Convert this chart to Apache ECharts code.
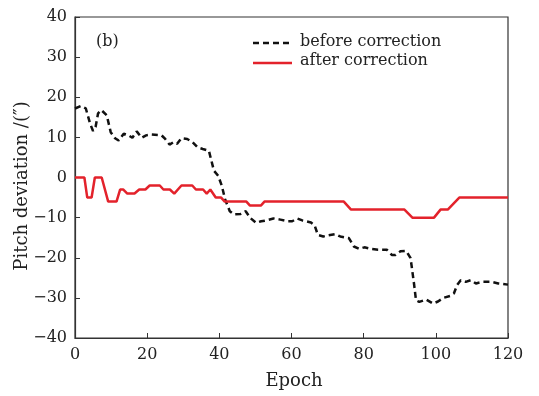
<!DOCTYPE html>
<html>
<head>
<meta charset="utf-8">
<script src="https://cdn.jsdelivr.net/npm/echarts@6/dist/echarts.min.js"></script>
<style>html,body{margin:0;padding:0;background:#fff}#c{width:539px;height:396px}</style>
</head>
<body>
<div id="c"></div>
<script>
var xTicks = [0, 20, 40, 60, 80, 100, 120];
var yTicks = [-40, -30, -20, -10, 0, 10, 20, 30, 40];

var beforeEpoch = [0,1.6,3,4.2,5,5.7,6.4,7.3,8.8,9.9,11.1,12.1,13.5,14.8,15.9,17.1,18.5,19.7,21.1,24,25,26.2,27.3,28.3,29.5,31.1,32.6,34,35.4,37.1,37.8,38.5,39.7,40.7,41.6,42.9,44,45.9,47.3,48.6,50.2,51.6,53,55,56.9,58.8,60.2,61.6,63,65.4,66.4,67.3,68.8,70.2,72.1,73.5,75.9,77.3,78.8,80.2,82.1,84,86.4,87.8,88.8,90.2,91.8,93,94,94.5,95.4,97.3,99.2,100.6,102.1,104,105,105.9,106.9,108.3,109.7,111.1,113,115.4,117.3,120];
var beforeValues = [17.2,17.8,17.2,13.4,11.6,12.6,16,16.8,15.5,11.3,9.8,9.2,10.9,10.5,9.9,11.5,9.9,10.5,10.7,10.5,9.6,8.2,8.8,8.4,9.8,9.6,8.8,7.5,7.1,6.7,4.2,1.7,0.4,-2.1,-5.5,-8.4,-9.2,-9.1,-8.4,-10.1,-11.3,-10.9,-10.7,-10.2,-10.5,-10.9,-10.9,-10.2,-10.7,-11.2,-11.9,-14.3,-14.7,-14.4,-14.1,-14.7,-15.1,-17.2,-17.8,-17.4,-17.8,-18,-18,-19.3,-19.3,-18.4,-18.3,-20.1,-26.8,-30.6,-31,-30.4,-31.4,-30.9,-30,-29.5,-28.9,-26.8,-25.6,-26,-25.6,-26.4,-26,-26,-26.4,-26.7];

var afterEpoch = [0,2.6,3.4,4.6,5.5,7.4,9.2,11.5,12.5,13.4,14.5,16.5,17.8,19.5,20.7,23.5,24.5,26.3,27.5,29.5,32.5,33.5,35.5,36.5,37.5,39,40.5,41.5,47.5,48.5,51.5,52.5,74.5,76.5,91.3,93.5,99.5,101.3,103.3,106.5,120];
var afterValues = [0,0,-5,-5,0,0,-6,-6,-3,-3,-4,-4,-3,-3,-2,-2,-3,-3,-4,-2,-2,-3,-3,-4,-3,-5,-5,-6,-6,-7,-7,-6,-6,-8,-8,-10,-10,-8,-8,-5,-5];

var seriesNames = ['before correction', 'after correction'];

function pairs(xs, ys) { return xs.map(function (x, i) { return [x, ys[i]]; }); }

var FONT = '"DejaVu Serif", serif';
var chart = echarts.init(document.getElementById('c'), null, {renderer: 'canvas'});
chart.setOption({
  animation: false,
  backgroundColor: '#ffffff',
  grid: {left: 75, right: 31, top: 17, bottom: 58, show: true, borderColor: '#333', borderWidth: 1.2, backgroundColor: 'transparent'},
  xAxis: {
    type: 'value', min: xTicks[0], max: xTicks[xTicks.length - 1], interval: 20,
    axisLine: {show: true, onZero: false, lineStyle: {color: '#333', width: 1.2}},
    axisTick: {show: true, inside: true, length: 5, lineStyle: {color: '#333'}},
    axisLabel: {color: '#222', fontFamily: FONT, fontSize: 16, margin: 9},
    splitLine: {show: false}
  },
  yAxis: {
    type: 'value', min: yTicks[0], max: yTicks[yTicks.length - 1], interval: 10,
    axisLine: {show: true, onZero: false, lineStyle: {color: '#333', width: 1.2}},
    axisTick: {show: true, inside: true, length: 5, lineStyle: {color: '#333'}},
    axisLabel: {color: '#222', fontFamily: FONT, fontSize: 16, margin: 8,
      formatter: function (v) { return v < 0 ? '\u2212' + Math.abs(v) : String(v); }},
    splitLine: {show: false}
  },
  legend: {show: false},
  series: [
    {name: seriesNames[0], type: 'line', data: pairs(beforeEpoch, beforeValues), symbol: 'none',
     lineStyle: {color: '#111', width: 2.5, type: [6, 4]}, z: 2},
    {name: seriesNames[1], type: 'line', data: pairs(afterEpoch, afterValues), symbol: 'none',
     lineStyle: {color: '#e3222b', width: 2.5}, z: 3}
  ],
  graphic: [
    {type: 'text', left: 96, top: 34, style: {text: '(b)', font: '16px ' + FONT, fill: '#222'}},
    {type: 'line', shape: {x1: 253, y1: 43, x2: 292, y2: 43}, style: {stroke: '#111', lineWidth: 2.5, lineDash: [6, 4]}},
    {type: 'text', left: 300, top: 34, style: {text: seriesNames[0], font: '16px ' + FONT, fill: '#222'}},
    {type: 'line', shape: {x1: 253, y1: 63, x2: 292, y2: 63}, style: {stroke: '#e3222b', lineWidth: 2.5}},
    {type: 'text', left: 300, top: 53, style: {text: seriesNames[1], font: '16px ' + FONT, fill: '#222'}},
    {type: 'text', x: 294, y: 381, style: {text: 'Epoch', font: '18px ' + FONT, fill: '#222', align: 'center', verticalAlign: 'middle'}},
    {type: 'text', x: 22, y: 186, rotation: Math.PI / 2, style: {text: 'Pitch deviation /(\u2033)', font: '18px ' + FONT, fill: '#222', align: 'center', verticalAlign: 'middle'}}
  ]
});
</script>
</body>
</html>
